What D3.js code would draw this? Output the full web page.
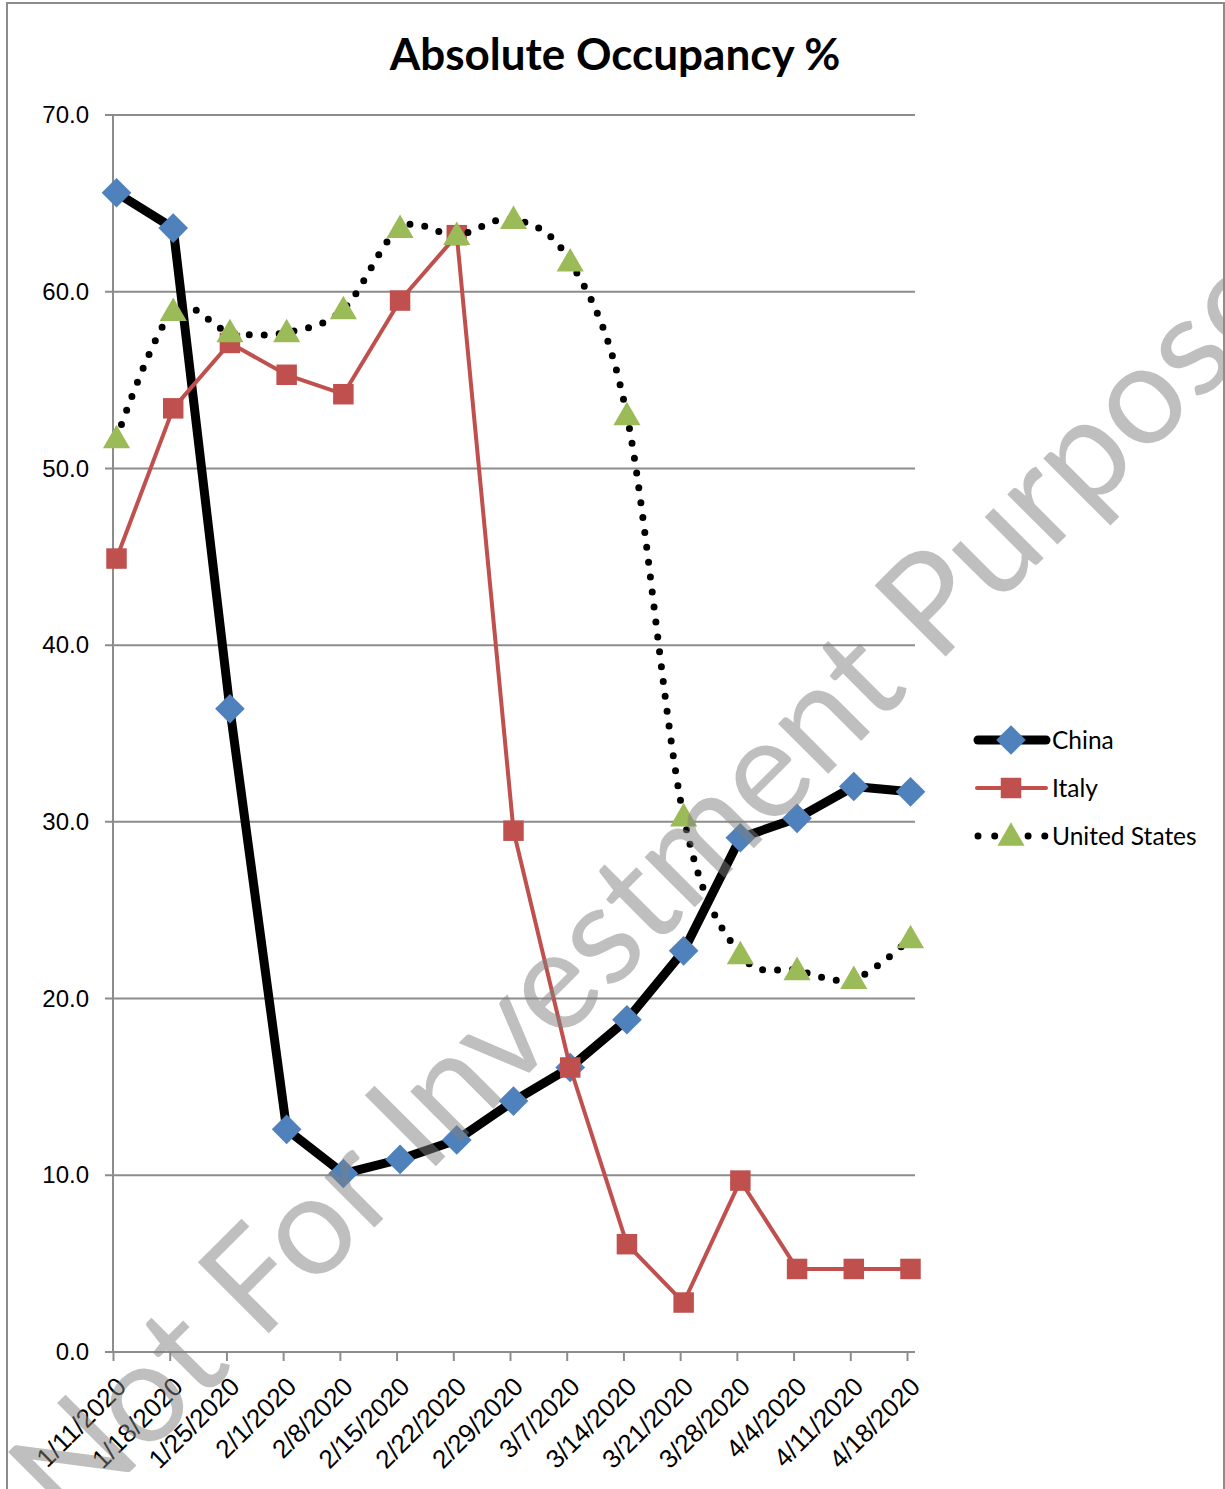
<!DOCTYPE html>
<html>
<head>
<meta charset="utf-8">
<script src="https://cdn.jsdelivr.net/npm/d3@7"></script>
<style>
  body { margin: 0; background: #fff; }
  svg { display: block; font-family: Lato, "Liberation Sans", sans-serif; }
</style>
</head>
<body>
<figure style="margin:0"></figure>
<script>
const dates = ['1/11/2020', '1/18/2020', '1/25/2020', '2/1/2020', '2/8/2020', '2/15/2020', '2/22/2020',
  '2/29/2020', '3/7/2020', '3/14/2020', '3/21/2020', '3/28/2020', '4/4/2020', '4/11/2020', '4/18/2020'];
const china = [65.6, 63.6, 36.4, 12.6, 10.1, 10.9, 12.0, 14.2, 16.1, 18.8, 22.7, 29.1, 30.2, 32.0, 31.7];
const italy = [44.9, 53.4, 57.1, 55.3, 54.2, 59.5, 63.2, 29.5, 16.1, 6.1, 2.8, 9.7, 4.7, 4.7, 4.7];
const us = [51.7, 58.9, 57.7, 57.7, 59.0, 63.6, 63.2, 64.1, 61.7, 53.0, 30.3, 22.5, 21.6, 21.1, 23.4];
const yTicks = [0, 10, 20, 30, 40, 50, 60, 70];
const seriesNames = ['China', 'Italy', 'United States'];

(() => {
  const width = 1225;
  const height = 1489;
  const plot = {left: 113, right: 915, top: 115, bottom: 1352};

  const svg = d3.select('figure').append('svg')
    .attr('width', width)
    .attr('height', height);

  const x = d3.scalePoint().domain(dates).range([116.5, 910.5]);
  const y = d3.scaleLinear().domain([0, 70]).range([plot.bottom, plot.top]);

  // chart frame
  svg.append('rect')
    .attr('x', 7).attr('y', 3)
    .attr('width', 1217).attr('height', height + 10)
    .attr('fill', 'none')
    .attr('stroke', '#8c8c8c')
    .attr('stroke-width', 2);

  svg.append('text')
    .attr('x', 615).attr('y', 70)
    .attr('text-anchor', 'middle')
    .attr('font-size', 44)
    .attr('font-weight', 'bold')
    .text('Absolute Occupancy %');

  // gridlines
  svg.append('g').selectAll('line')
    .data(yTicks)
    .join('line')
      .attr('x1', plot.left - 8).attr('x2', plot.right)
      .attr('y1', d => y(d)).attr('y2', d => y(d))
      .attr('stroke', '#8c8c8c')
      .attr('stroke-width', 2);

  const yAxis = svg.append('g')
      .attr('transform', 'translate(' + plot.left + ',0)')
      .call(d3.axisLeft(y).tickValues(yTicks).tickSize(0).tickPadding(24).tickFormat(d3.format('.1f')));
  yAxis.select('.domain').remove();
  yAxis.selectAll('text').attr('font-size', 24).attr('font-family', null).attr('fill', '#000');

  svg.append('line')
    .attr('x1', plot.left).attr('x2', plot.left)
    .attr('y1', plot.top).attr('y2', plot.bottom)
    .attr('stroke', '#8c8c8c').attr('stroke-width', 2);

  const xAxis = svg.append('g')
      .attr('transform', 'translate(-3.5,' + plot.bottom + ')')
      .call(d3.axisBottom(x).tickSize(9).tickSizeOuter(0));
  xAxis.select('.domain').remove();
  xAxis.selectAll('line').attr('stroke', '#8c8c8c').attr('stroke-width', 2);
  xAxis.selectAll('text')
      .attr('font-size', 26)
      .attr('font-family', null)
      .attr('fill', '#000')
      .attr('text-anchor', 'end')
      .attr('y', 0).attr('dy', '0.72em')
      .attr('transform', 'translate(1,23) rotate(-45)');

  svg.append('line')
    .attr('x1', plot.left).attr('x2', plot.right)
    .attr('y1', plot.bottom).attr('y2', plot.bottom)
    .attr('stroke', '#8c8c8c').attr('stroke-width', 2);

  const diamond = d3.symbol().type(d3.symbolSquare).size(440);
  const square = d3.symbol().type(d3.symbolSquare).size(420);
  const triangle = d3.symbol().type(d3.symbolTriangle).size(320);

  const straight = d3.line().x((d, i) => x(dates[i])).y(d => y(d));
  const smooth = d3.line().x((d, i) => x(dates[i])).y(d => y(d)).curve(d3.curveCardinal.tension(0));

  // China
  svg.append('path').datum(china)
    .attr('d', straight)
    .attr('fill', 'none').attr('stroke', '#000').attr('stroke-width', 9)
    .attr('stroke-linejoin', 'round');
  svg.append('g').selectAll('path').data(china).join('path')
    .attr('d', diamond)
    .attr('transform', (d, i) => 'translate(' + x(dates[i]) + ',' + y(d) + ') rotate(45)')
    .attr('fill', '#4f81bd');

  // Italy
  svg.append('path').datum(italy)
    .attr('d', straight)
    .attr('fill', 'none').attr('stroke', '#c0504d').attr('stroke-width', 4)
    .attr('stroke-linejoin', 'round');
  svg.append('g').selectAll('path').data(italy).join('path')
    .attr('d', square)
    .attr('transform', (d, i) => 'translate(' + x(dates[i]) + ',' + y(d) + ')')
    .attr('fill', '#c0504d');

  // United States
  svg.append('path').datum(us)
    .attr('d', smooth)
    .attr('fill', 'none').attr('stroke', '#000').attr('stroke-width', 7)
    .attr('stroke-linecap', 'round').attr('stroke-dasharray', '0 15');
  svg.append('g').selectAll('path').data(us).join('path')
    .attr('d', triangle)
    .attr('transform', (d, i) => 'translate(' + x(dates[i]) + ',' + (y(d) + 2) + ')')
    .attr('fill', '#9bbb59');

  // legend
  const legend = svg.append('g').attr('transform', 'translate(975,0)');
  const legendY = [740, 788, 836];

  legend.append('line')
    .attr('x1', 3).attr('x2', 71).attr('y1', legendY[0]).attr('y2', legendY[0])
    .attr('stroke', '#000').attr('stroke-width', 9).attr('stroke-linecap', 'round');
  legend.append('path').attr('d', diamond)
    .attr('transform', 'translate(36,' + legendY[0] + ') rotate(45)').attr('fill', '#4f81bd');

  legend.append('line')
    .attr('x1', 2).attr('x2', 71).attr('y1', legendY[1]).attr('y2', legendY[1])
    .attr('stroke', '#c0504d').attr('stroke-width', 4).attr('stroke-linecap', 'round');
  legend.append('path').attr('d', square)
    .attr('transform', 'translate(36,' + legendY[1] + ')').attr('fill', '#c0504d');

  legend.append('line')
    .attr('x1', 3).attr('x2', 70).attr('y1', legendY[2]).attr('y2', legendY[2])
    .attr('stroke', '#000').attr('stroke-width', 7).attr('stroke-linecap', 'round')
    .attr('stroke-dasharray', '0 16.7');
  legend.append('path').attr('d', triangle)
    .attr('transform', 'translate(36,' + (legendY[2] + 2) + ')').attr('fill', '#9bbb59');

  legend.selectAll('text').data(seriesNames).join('text')
    .attr('x', 77)
    .attr('y', (d, i) => legendY[i])
    .attr('dy', '0.36em')
    .attr('font-size', 24.5)
    .text(d => d);

  // watermark
  svg.append('clipPath').attr('id', 'frame')
    .append('rect').attr('x', 8).attr('y', 4).attr('width', 1215).attr('height', height);
  svg.append('g').attr('clip-path', 'url(#frame)')
    .append('text')
      .attr('transform', 'translate(70,1532) rotate(-45)')
      .attr('font-size', 140)
      .attr('fill', '#808080')
      .attr('fill-opacity', 0.5)
      .attr('textLength', 1790)
      .attr('lengthAdjust', 'spacingAndGlyphs')
      .text('Not For Investment Purposes');
})();
</script>
</body>
</html>
